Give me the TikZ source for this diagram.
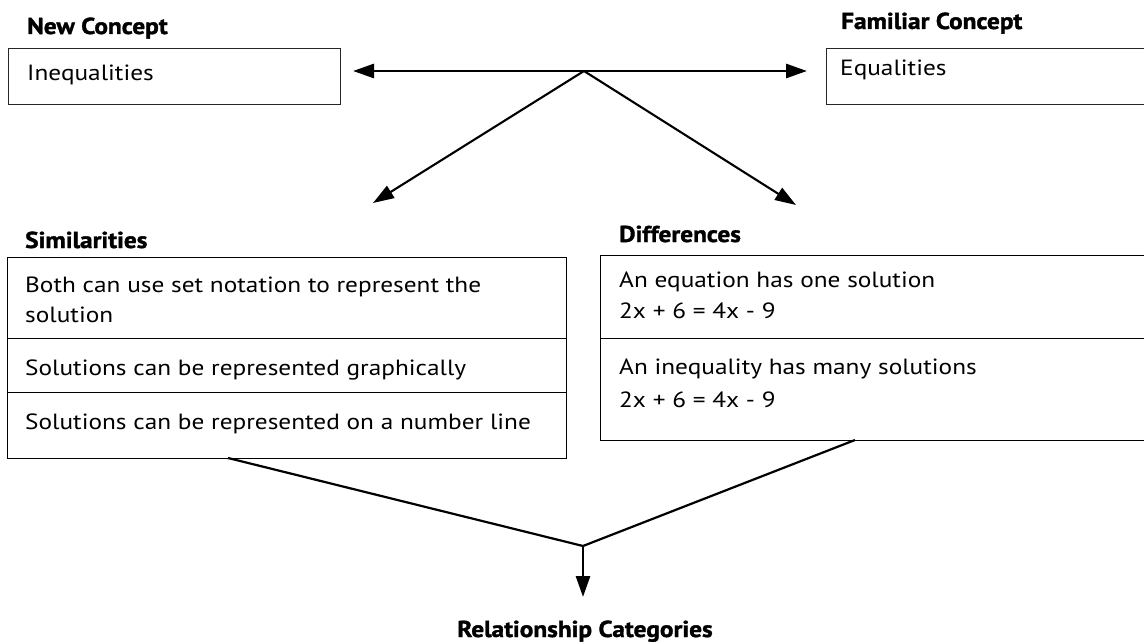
\documentclass[tikz,border=0pt]{standalone}
\usepackage{fontspec}
\setmainfont{PT Sans}[FakeStretch=1.15]
\newfontfamily\lblfont{PT Sans}[FakeStretch=1.1,BoldFeatures={FakeBold=1.5}]
\usetikzlibrary{arrows.meta}
\begin{document}
\begin{tikzpicture}[x=1pt,y=-1pt,
  lbl/.style={anchor=base west, inner sep=0pt, font=\lblfont\fontsize{23}{27}\selectfont\bfseries},
  txt/.style={anchor=base west, inner sep=0pt, font=\fontsize{22}{26}\selectfont},
  box/.style={draw=black!85, line width=1pt, anchor=north west, inner sep=0pt},
  row/.style={draw=black, line width=1.2pt, anchor=north west, inner sep=0pt},
  conn/.style={line width=2.1pt, -{Triangle[length=21pt,width=14pt]}},
  thick conn/.style={line width=2.8pt, -{Triangle[length=21pt,width=14pt]}},
  plain/.style={line width=2.2pt}]
\useasboundingbox (0,0) rectangle (1144,642);

% labels
\node[lbl] (newc) at (27,34) {New Concept};
\node[lbl] (famc) at (841,29) {Familiar Concept};
\node[lbl] (siml) at (25,248) {Similarities};
\node[lbl] (difl) at (619,242) {Differences};
\node[lbl, anchor=base] (relc) at (585,637) {Relationship Categories};

% top boxes
\node[box, minimum width=332pt, minimum height=56pt] (ineq) at (8,48) {};
\node[txt] (ineqt) at (27,81) {Inequalities};
\node[box, minimum width=330pt, minimum height=56pt] (equ) at (826,48) {};
\node[txt] (equt) at (840,76) {Equalities};

% similarities rows
\node[row, minimum width=559pt, minimum height=81pt] (sim1) at (7,257) {};
\node[row, minimum width=559pt, minimum height=54pt] (sim2) at (7,338) {};
\node[row, minimum width=559pt, minimum height=66pt] (sim3) at (7,392) {};
\node[txt] (s1a) at (25,292) {Both can use set notation to represent the};
\node[txt] (s1b) at (25,322) {solution};
\node[txt] (s2) at (25,375) {Solutions can be represented graphically};
\node[txt] (s3) at (25,429) {Solutions can be represented on a number line};

% differences rows
\node[row, minimum width=560pt, minimum height=83pt] (dif1) at (600,255) {};
\node[row, minimum width=560pt, minimum height=102pt] (dif2) at (600,338) {};
\node[txt] (d1a) at (619,287) {An equation has one solution};
\node[txt] (d1b) at (619,318) {2x + 6 = 4x - 9};
\node[txt] (d2a) at (619,374) {An inequality has many solutions};
\node[txt] (d2b) at (619,407) {2x + 6 = 4x - 9};

% top connectors
\coordinate (top) at (584,71);
\coordinate (lend) at (353,71);
\coordinate (rend) at (807,71);
\coordinate (sd) at (373,203);
\coordinate (dd) at (796,205);
\draw[thick conn] (top) -- (lend);
\draw[thick conn] (top) -- (rend);
\draw[conn] (top) -- (sd);
\draw[conn] (top) -- (dd);

% bottom connectors
\coordinate (join) at (583,546);
\coordinate (sb) at (228,458);
\coordinate (db) at (855,440);
\coordinate (rend2) at (583,597);
\draw[plain, line join=round] (sb) -- (join) -- (db);
\draw[thick conn] (join) -- (rend2);
\end{tikzpicture}
\end{document}
